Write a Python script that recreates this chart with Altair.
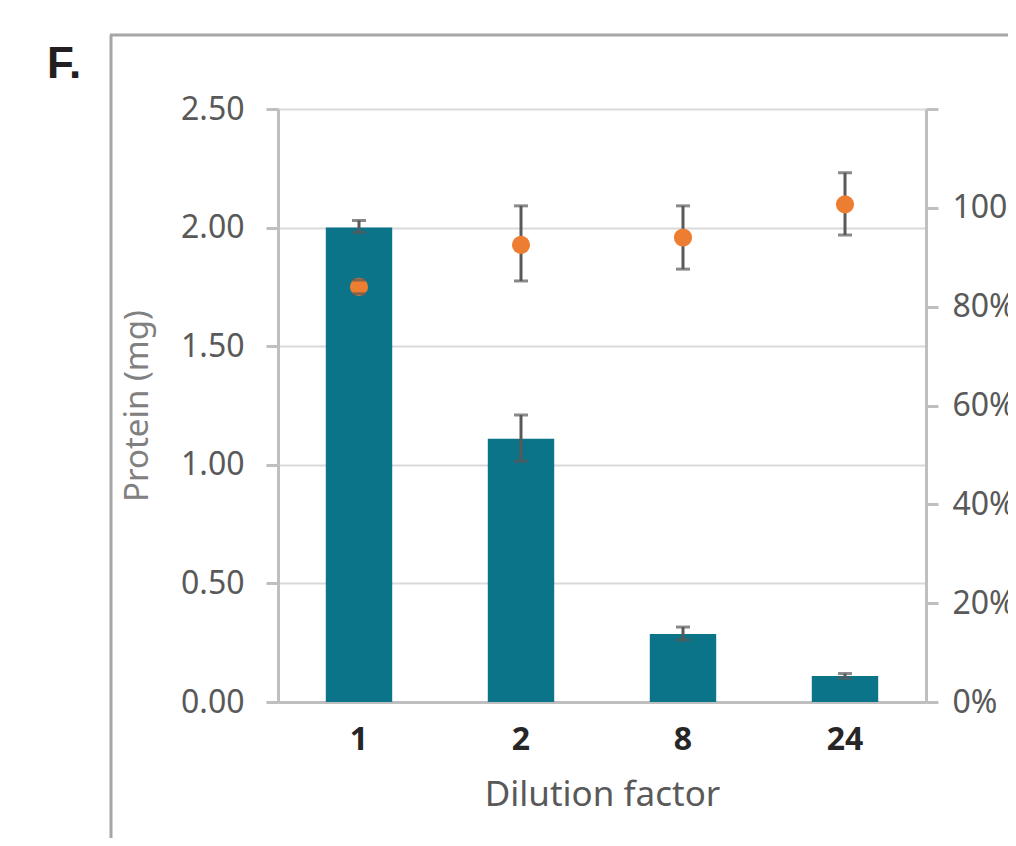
import altair as alt
import pandas as pd

# ---- data ----
dilution = ["1", "2", "8", "24"]
protein_mg = [2.00, 1.11, 0.287, 0.11]
protein_lo = [1.98, 1.015, 0.261, 0.10]
protein_hi = [2.03, 1.21, 0.316, 0.12]
recovery = [0.84, 0.925, 0.94, 1.007]
recovery_lo = [0.826, 0.852, 0.876, 0.945]
recovery_hi = [0.854, 1.004, 1.004, 1.071]

df = pd.DataFrame({
    "dilution": dilution,
    "protein": protein_mg,
    "p_lo": protein_lo,
    "p_hi": protein_hi,
    "rec": recovery,
    "r_lo": recovery_lo,
    "r_hi": recovery_hi,
})

FONT = "Noto Sans"
BAR = "#0B7489"
ORANGE = "#ED7D31"
ERR = "#595959"
AX = "#BFBFBF"

x_enc = alt.X(
    "dilution:N",
    sort=dilution,
    scale=alt.Scale(paddingInner=0.59, paddingOuter=0.295),
    axis=alt.Axis(
        title="Dilution factor",
        labelAngle=0,
        ticks=False,
        labelPadding=22,
        labelFontSize=32,
        labelFontWeight="bold",
        labelColor="#262626",
        titleFontSize=35,
        titleFontWeight="normal",
        titleColor="#595959",
        titlePadding=22,
        domainColor=AX,
        domainWidth=3,
        grid=False,
    ),
)

left_axis = alt.Axis(
    title="Protein (mg)",
    values=[0, 0.5, 1.0, 1.5, 2.0, 2.5],
    format=".2f",
    tickSize=12,
    tickWidth=3,
    tickColor=AX,
    domainColor=AX,
    domainWidth=3,
    labelPadding=22,
    labelFontSize=32,
    labelColor="#595959",
    titleFontSize=33,
    titleFontWeight="normal",
    titleColor="#808080",
    titlePadding=26,
    grid=True,
    gridColor="#D9D9D9",
    gridWidth=2,
)
left_scale = alt.Scale(domain=[0, 2.5], nice=False)

right_axis = alt.Axis(
    title=None,
    orient="right",
    values=[0, 0.2, 0.4, 0.6, 0.8, 1.0, 1.2],
    labelExpr="datum.value > 1.01 ? '' : format(datum.value, '.0%')",
    tickSize=12,
    tickWidth=3,
    tickColor=AX,
    domainColor=AX,
    domainWidth=3,
    labelPadding=14,
    labelFontSize=32,
    labelColor="#595959",
    grid=False,
)
right_scale = alt.Scale(domain=[0, 1.2], nice=False)

base = alt.Chart(df)

bars = base.mark_bar(color=BAR).encode(
    x=x_enc,
    y=alt.Y("protein:Q", scale=left_scale, axis=left_axis),
)
bar_rule = base.mark_rule(color=ERR, strokeWidth=3).encode(
    x=x_enc,
    y=alt.Y("p_lo:Q", scale=left_scale, axis=left_axis),
    y2="p_hi:Q",
)
bar_cap_lo = base.mark_tick(color=ERR, size=14, thickness=3).encode(
    x=x_enc, y=alt.Y("p_lo:Q", scale=left_scale, axis=left_axis)
)
bar_cap_hi = base.mark_tick(color=ERR, size=14, thickness=3).encode(
    x=x_enc, y=alt.Y("p_hi:Q", scale=left_scale, axis=left_axis)
)
left = alt.layer(bars, bar_rule, bar_cap_lo, bar_cap_hi)

pt_rule = base.mark_rule(color=ERR, strokeWidth=3).encode(
    x=x_enc,
    y=alt.Y("r_lo:Q", scale=right_scale, axis=right_axis),
    y2="r_hi:Q",
)
points = base.mark_circle(color=ORANGE, size=330, opacity=1).encode(
    x=x_enc, y=alt.Y("rec:Q", scale=right_scale, axis=right_axis)
)
pt_cap_lo = base.mark_tick(color=ERR, size=14, thickness=3).encode(
    x=x_enc, y=alt.Y("r_lo:Q", scale=right_scale, axis=right_axis)
)
pt_cap_hi = base.mark_tick(color=ERR, size=14, thickness=3).encode(
    x=x_enc, y=alt.Y("r_hi:Q", scale=right_scale, axis=right_axis)
)
right = alt.layer(pt_rule, points, pt_cap_lo, pt_cap_hi)

one = pd.DataFrame({"t": ["F."]})
border_left = alt.Chart(one).mark_rule(color="#A6A6A6", strokeWidth=3).encode(
    x=alt.value(-167), y=alt.value(-74), y2=alt.value(740)
)
border_top = alt.Chart(one).mark_rule(color="#A6A6A6", strokeWidth=3).encode(
    x=alt.value(-168), x2=alt.value(740), y=alt.value(-74)
)
panel_label = alt.Chart(one).mark_text(
    font="Liberation Sans", fontSize=44, fontWeight="bold", color="#231F20",
    align="left", baseline="alphabetic"
).encode(text="t:N", x=alt.value(-231), y=alt.value(-31))

chart = (
    alt.layer(left, right, border_left, border_top, panel_label)
    .resolve_scale(y="independent")
    .properties(
        width=648,
        height=593,
        padding={"left": 270, "top": 101, "right": 82, "bottom": 136},
        autosize=alt.AutoSizeParams(type="none"),
    )
    .configure_view(stroke=None)
    .configure(font=FONT)
)

chart.save("out.html", embed_options={"renderer": "svg", "actions": False})
